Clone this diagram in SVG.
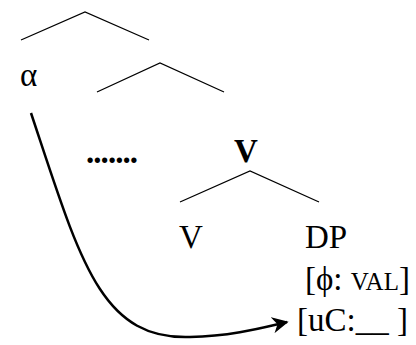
<svg xmlns="http://www.w3.org/2000/svg" width="416" height="345" viewBox="0 0 416 345">
<style>
.ln{fill:none;stroke:#000;stroke-width:1.3}
.t{font-family:"Liberation Serif","Times New Roman",serif;font-size:33px;fill:#000}
.b{font-weight:bold}
</style>
<defs>
<marker id="ah" viewBox="0 0 10 10" refX="9" refY="5" markerWidth="6.5" markerHeight="6.5" orient="auto" markerUnits="strokeWidth">
<path d="M0,0 L10,5 L0,10 L3,5 Z" fill="#000"/>
</marker>
</defs>
<rect width="416" height="345" fill="#fff"/>
<g id="tree-lines">
<polyline class="ln" points="21,40 85,12 149,40"/>
<polyline class="ln" points="97,92 160,63 224,92"/>
<polyline class="ln" points="180,202 250,171 319,202"/>
</g>
<g id="alpha"><text class="t" x="20" y="86">α</text></g>
<g id="dots"><text class="t b" x="86" y="163" textLength="52" lengthAdjust="spacing">.......</text></g>
<g id="Vbar"><text class="t b" x="234" y="162" font-size="35">V</text></g>
<g id="V"><text class="t" x="179" y="248">V</text></g>
<g id="DP">
<text class="t" x="305" y="248">DP</text>
<text class="t" x="305" y="290">[ϕ: <tspan font-size="25">VAL</tspan>]</text>
<text class="t" x="297" y="331">[uC:__ ]</text>
</g>
<g id="connectors">
<path d="M31,113 C80,260 100,340 190,337 C233,336 265,327 287,322" fill="none" stroke="#000" stroke-width="2.5" marker-end="url(#ah)"/>
</g>
</svg>
